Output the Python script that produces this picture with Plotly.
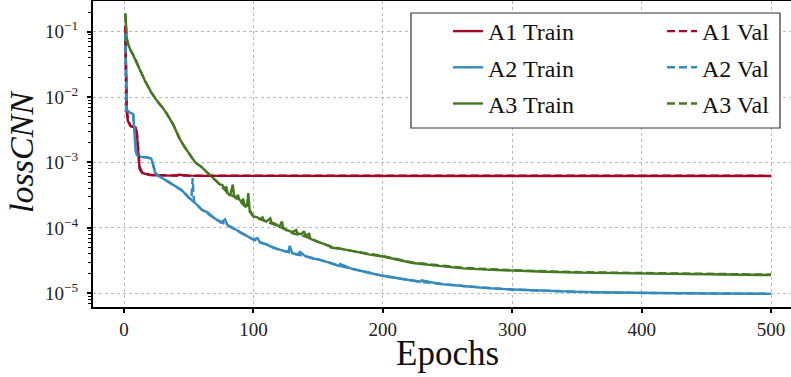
import plotly.graph_objects as go

# ---------------- data ----------------
a1_epochs = [1, 2, 3, 4, 5, 7, 9, 10, 11, 12, 14, 17, 20, 25, 30, 40, 42, 50, 60, 80,
             100, 150, 200, 250, 300, 350, 400, 450, 500]
a1_train = [0.12, 6.0e-3, 4.3e-3, 3.8e-3, 3.6e-3, 3.5e-3, 3.4e-3, 2.5e-3, 1.2e-3, 8.0e-4,
            6.9e-4, 6.6e-4, 6.4e-4, 6.35e-4, 6.3e-4, 6.3e-4, 6.5e-4, 6.3e-4, 6.25e-4, 6.25e-4,
            6.2e-4, 6.2e-4, 6.2e-4, 6.2e-4, 6.2e-4, 6.2e-4, 6.2e-4, 6.2e-4, 6.2e-4]
a1_val = [0.12, 7.0e-3, 4.5e-3, 3.9e-3, 3.6e-3, 3.5e-3, 3.4e-3, 2.8e-3, 1.4e-3, 8.5e-4,
          7.0e-4, 6.7e-4, 6.5e-4, 6.4e-4, 6.35e-4, 6.35e-4, 6.4e-4, 6.3e-4, 6.3e-4, 6.3e-4,
          6.25e-4, 6.25e-4, 6.25e-4, 6.25e-4, 6.25e-4, 6.25e-4, 6.25e-4, 6.25e-4, 6.25e-4]

a2_epochs = [1, 2, 3, 5, 7, 8, 9, 10, 13, 17,
             21, 22, 24, 26, 30, 35, 40, 45, 50, 55,
             60, 65, 70, 75, 78, 80, 85, 90, 95, 100,
             103, 105, 110, 115, 120, 124, 127, 128, 130, 134,
             136, 140, 146, 150, 160, 166, 167, 175, 185, 200,
             215, 229, 230, 245, 262, 280, 300, 325, 352, 375,
             400, 450, 500]
a2_train = [0.09, 6.5e-3, 6.0e-3, 5.8e-3, 5.5e-3, 3.0e-3, 1.5e-3, 1.3e-3, 1.22e-3, 1.2e-3,
            1.15e-3, 1.0e-3, 7.0e-4, 6.3e-4, 5.7e-4, 5.0e-4, 4.3e-4, 3.7e-4, 2.9e-4, 2.4e-4,
            1.9e-4, 1.7e-4, 1.4e-4, 1.2e-4, 1.35e-4, 1.1e-4, 9.8e-5, 8.5e-5, 7.5e-5, 6.6e-5,
            7.0e-5, 6.0e-5, 5.6e-5, 5.0e-5, 4.6e-5, 4.4e-5, 4.3e-5, 5.3e-5, 4.1e-5, 3.9e-5,
            4.3e-5, 3.7e-5, 3.4e-5, 3.3e-5, 2.9e-5, 2.6e-5, 2.8e-5, 2.4e-5, 2.15e-5, 1.85e-5,
            1.65e-5, 1.5e-5, 1.58e-5, 1.38e-5, 1.29e-5, 1.2e-5, 1.14e-5, 1.09e-5, 1.05e-5, 1.03e-5,
            1.01e-5, 9.9e-6, 9.8e-6]
a2_val_epochs = [1, 2, 3, 5, 7, 8, 9, 10, 13, 17, 21, 22, 24, 26, 30, 35, 40, 45, 50, 52,
                 53, 54, 55, 60, 70, 80, 90, 100, 110, 120, 130, 140, 150, 167, 185, 200, 229, 262, 300, 352,
                 400, 450, 500]
a2_val = [0.095, 6.6e-3, 6.0e-3, 5.8e-3, 5.5e-3, 3.2e-3, 1.6e-3, 1.3e-3, 1.22e-3, 1.2e-3,
          1.15e-3, 1.0e-3, 7.2e-4, 6.4e-4, 5.7e-4, 5.0e-4, 4.3e-4, 3.7e-4, 2.9e-4, 2.7e-4,
          5.8e-4, 2.5e-4, 2.4e-4, 1.9e-4, 1.4e-4, 1.1e-4, 8.5e-5, 6.6e-5, 5.6e-5, 4.6e-5,
          4.1e-5, 3.7e-5, 3.3e-5, 2.6e-5, 2.15e-5, 1.85e-5, 1.5e-5, 1.29e-5, 1.14e-5, 1.05e-5,
          1.01e-5, 9.9e-6, 9.8e-6]

a3_epochs = [1, 2, 3, 5, 8, 12, 16, 21, 25, 30,
             33, 38, 43, 47, 51, 55, 60, 64, 66, 70,
             72, 74, 76, 78, 79, 80, 82, 84, 85, 87,
             88, 89, 91, 92, 93, 95, 96, 97, 99, 100,
             103, 105, 107, 108, 110, 113, 114, 117, 120, 122,
             123, 126, 130, 133, 134, 137, 139, 140, 143, 144,
             150, 155, 159, 160, 170, 180, 190, 200, 223, 245,
             262, 280, 300, 325, 352, 375, 400, 450, 500]
a3_train = [0.19, 0.08, 0.065, 0.052, 0.040, 0.027, 0.018, 0.0118, 0.009, 0.0068,
            0.0056, 0.0038, 0.0023, 0.0017, 0.0013, 0.0010, 8.5e-4, 7.2e-4, 6.4e-4, 5.5e-4,
            5.1e-4, 4.6e-4, 4.5e-4, 3.9e-4, 4.3e-4, 3.4e-4, 3.1e-4, 4.6e-4, 3.1e-4, 2.9e-4,
            3.2e-4, 2.7e-4, 2.5e-4, 2.8e-4, 2.3e-4, 2.2e-4, 3.4e-4, 1.9e-4, 1.6e-4, 1.5e-4,
            1.45e-4, 1.35e-4, 1.45e-4, 1.3e-4, 1.25e-4, 1.4e-4, 1.2e-4, 1.15e-4, 1.04e-4, 1.25e-4,
            1.0e-4, 9.2e-5, 8.6e-5, 9.3e-5, 8.2e-5, 8.0e-5, 8.9e-5, 7.6e-5, 8.1e-5, 6.8e-5,
            6.1e-5, 5.6e-5, 5.3e-5, 5.0e-5, 4.7e-5, 4.3e-5, 3.9e-5, 3.65e-5, 2.9e-5, 2.6e-5,
            2.4e-5, 2.3e-5, 2.2e-5, 2.13e-5, 2.07e-5, 2.03e-5, 2.0e-5, 1.95e-5, 1.9e-5]
a3_val_epochs = [1, 2, 3, 5, 8, 12, 16, 21, 25, 30, 33, 38, 43, 47, 51, 55, 60, 64, 66, 70,
                 75, 80, 85, 90, 95, 100, 110, 120, 130, 140, 150, 159, 170, 180, 200, 223, 262, 300, 352, 400,
                 450, 500]
a3_val = [0.19, 0.082, 0.066, 0.053, 0.041, 0.027, 0.018, 0.0118, 0.009, 0.0068,
          0.0056, 0.0038, 0.0023, 0.0017, 0.0013, 0.0010, 8.5e-4, 7.2e-4, 6.4e-4, 5.5e-4,
          4.4e-4, 3.4e-4, 3.0e-4, 2.5e-4, 2.0e-4, 1.5e-4, 1.25e-4, 1.05e-4, 8.3e-5, 7.4e-5,
          6.1e-5, 5.2e-5, 4.7e-5, 4.3e-5, 3.7e-5, 2.95e-5, 2.45e-5, 2.25e-5, 2.1e-5, 2.03e-5,
          1.98e-5, 1.93e-5]

x_tick_vals = [0, 100, 200, 300, 400, 500]
y_tick_vals = [1e-5, 1e-4, 1e-3, 1e-2, 1e-1]
y_tick_text = ["10<sup>\u22125</sup>", "10<sup>\u22124</sup>", "10<sup>\u22123</sup>",
               "10<sup>\u22122</sup>", "10<sup>\u22121</sup>"]

# ---------------- style ----------------
RED, BLUE, GREEN = "#A60628", "#348ABD", "#467821"
FONT = "Liberation Serif, Times New Roman, serif"
W, H = 791, 377
ML, MR, MT, MB = 93, 0, 1, 70

def px_x(p):
    return (p - ML) / (W - ML - MR)

def px_y(p):
    return (H - MB - p) / (H - MT - MB)

fig = go.Figure()
train_specs = [("A1 Train", a1_epochs, a1_train, RED),
               ("A2 Train", a2_epochs, a2_train, BLUE),
               ("A3 Train", a3_epochs, a3_train, GREEN)]
val_specs = [("A1 Val", a1_epochs, a1_val, RED),
             ("A2 Val", a2_val_epochs, a2_val, BLUE),
             ("A3 Val", a3_val_epochs, a3_val, GREEN)]

for name, xs, ys, col in train_specs:
    fig.add_trace(go.Scatter(x=xs, y=ys, mode="lines", name=name, legend="legend",
                             legendgroup=name,
                             line=dict(color=col, width=2.4)))
for name, xs, ys, col in val_specs:
    fig.add_trace(go.Scatter(x=xs, y=ys, mode="lines", name=name, legend="legend2",
                             legendgroup=name,
                             line=dict(color=col, width=2.4, dash="8px,4px")))

minor_vals = [m * 10.0 ** e for e in range(-6, 0) for m in range(2, 10)]

fig.update_layout(
    width=W, height=H,
    margin=dict(l=ML, r=MR, t=MT, b=MB, pad=0),
    paper_bgcolor="white", plot_bgcolor="white",
    font=dict(family=FONT, color="#222222", size=19),
    showlegend=True,
    xaxis=dict(
        range=[-24, 515.4], tickmode="array", tickvals=x_tick_vals,
        showline=True, linecolor="black", linewidth=2.2, mirror=True,
        ticks="outside", ticklen=4, tickwidth=1.6, tickcolor="black",
        showgrid=True, gridcolor="#b8b8b8", gridwidth=1, griddash="dot",
        zeroline=False, tickfont=dict(size=19, family=FONT), ticklabelstandoff=0,
    ),
    yaxis=dict(
        type="log", range=[-5.21, -0.5306], tickmode="array",
        tickvals=y_tick_vals, ticktext=y_tick_text,
        showline=True, linecolor="black", linewidth=2.2, mirror=False,
        ticks="outside", ticklen=4, tickwidth=1.6, tickcolor="black",
        showgrid=True, gridcolor="#b8b8b8", gridwidth=1, griddash="dot",
        zeroline=False, tickfont=dict(size=19, family=FONT), ticklabelstandoff=5,
        minor=dict(tickmode="array", tickvals=minor_vals, ticks="outside", ticklen=3,
                   tickwidth=1, tickcolor="black", showgrid=False),
    ),
    legend=dict(x=px_x(448), y=px_y(9), xanchor="left", yanchor="top",
                bgcolor="rgba(0,0,0,0)", borderwidth=0, orientation="v",
                tracegroupgap=2, font=dict(size=24, family=FONT, color="#111111")),
    legend2=dict(x=px_x(662), y=px_y(9), xanchor="left", yanchor="top",
                 bgcolor="rgba(0,0,0,0)", borderwidth=0, orientation="v",
                 tracegroupgap=2, font=dict(size=24, family=FONT, color="#111111")),
    shapes=[dict(type="rect", xref="paper", yref="paper",
                 x0=px_x(411), x1=px_x(780), y0=px_y(128), y1=px_y(13),
                 fillcolor="white", line=dict(color="#333333", width=1.2), layer="above")],
    annotations=[
        dict(text="Epochs", xref="paper", yref="paper", x=px_x(447.5), y=px_y(354),
             xanchor="center", yanchor="middle", showarrow=False,
             font=dict(size=35, family=FONT, color="#111111")),
        dict(text="<i>lossCNN</i>", xref="paper", yref="paper", x=px_x(21), y=px_y(152),
             xanchor="center", yanchor="middle", showarrow=False, textangle=-90,
             font=dict(size=34, family=FONT, color="#111111")),
    ],
)

fig.write_html("out.html")
